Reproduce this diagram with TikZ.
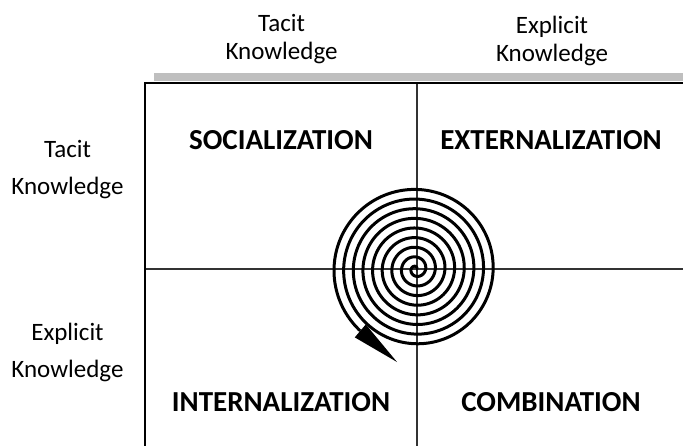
\documentclass[tikz,border=0pt]{standalone}
\usepackage{fontspec}
\setmainfont{Carlito}
\usetikzlibrary{calc}
\tikzset{
  axislabel/.style={font=\fontsize{25}{28}\selectfont, anchor=base, inner sep=0pt},
  modelabel/.style={font=\bfseries\fontsize{29}{30}\selectfont, anchor=base, inner sep=0pt},
  frameline/.style={line width=2.2pt, black},
  divider/.style={line width=1.2pt, black!80},
  spiralline/.style={line width=3pt, line join=round, black},
}
\begin{document}
\begin{tikzpicture}[x=1pt,y=-1pt]
\useasboundingbox (0,0) rectangle (683,445);
\clip (0,0) rectangle (683,445);
% grey bar above the grid
\fill[black!25] (154,73) rectangle (690,81);
% frame corners
\coordinate (frameBL) at (145,450);
\coordinate (frameTL) at (145,83);
\coordinate (frameTR) at (690,83);
\coordinate (divTop) at (417,83);
\coordinate (divBottom) at (417,450);
\coordinate (divLeft) at (145,269);
\coordinate (divRight) at (690,269);
\draw[divider] (divTop) -- (divBottom);
\draw[divider] (divLeft) -- (divRight);
\draw[frameline] (frameBL) -- (frameTL) -- (frameTR);
% spiral
\draw[spiralline] plot[domain=0:3108, samples=800, smooth, variable=\t]
  ({416 + 0.0268*\t*cos(\t)}, {269 - 0.0268*\t*sin(\t)});
\coordinate (spiralEnd) at ({416 + 0.0268*3108*cos(3108)}, {269 - 0.0268*3108*sin(3108)});
\coordinate (arrowTip) at (397,362);
\fill ($(spiralEnd)!8.5pt!90:(arrowTip)$) -- (arrowTip) -- ($(spiralEnd)!8.5pt!-90:(arrowTip)$) -- cycle;
% column headings
\node[axislabel] (colTacitA) at (281.5,31) {Tacit};
\node[axislabel] (colTacitB) at (281.5,59) {Knowledge};
\node[axislabel] (colExplA) at (552,33) {Explicit};
\node[axislabel] (colExplB) at (552,61) {Knowledge};
% row headings
\node[axislabel] (rowTacitA) at (67.5,157) {Tacit};
\node[axislabel] (rowTacitB) at (67.5,194) {Knowledge};
\node[axislabel] (rowExplA) at (67.5,340) {Explicit};
\node[axislabel] (rowExplB) at (67.5,377) {Knowledge};
% quadrant labels
\node[modelabel] (soc) at (281,149) {SOCIALIZATION};
\node[modelabel] (ext) at (551,149) {EXTERNALIZATION};
\node[modelabel] (int) at (281,411) {INTERNALIZATION};
\node[modelabel] (com) at (551,411) {COMBINATION};
\end{tikzpicture}
\end{document}
